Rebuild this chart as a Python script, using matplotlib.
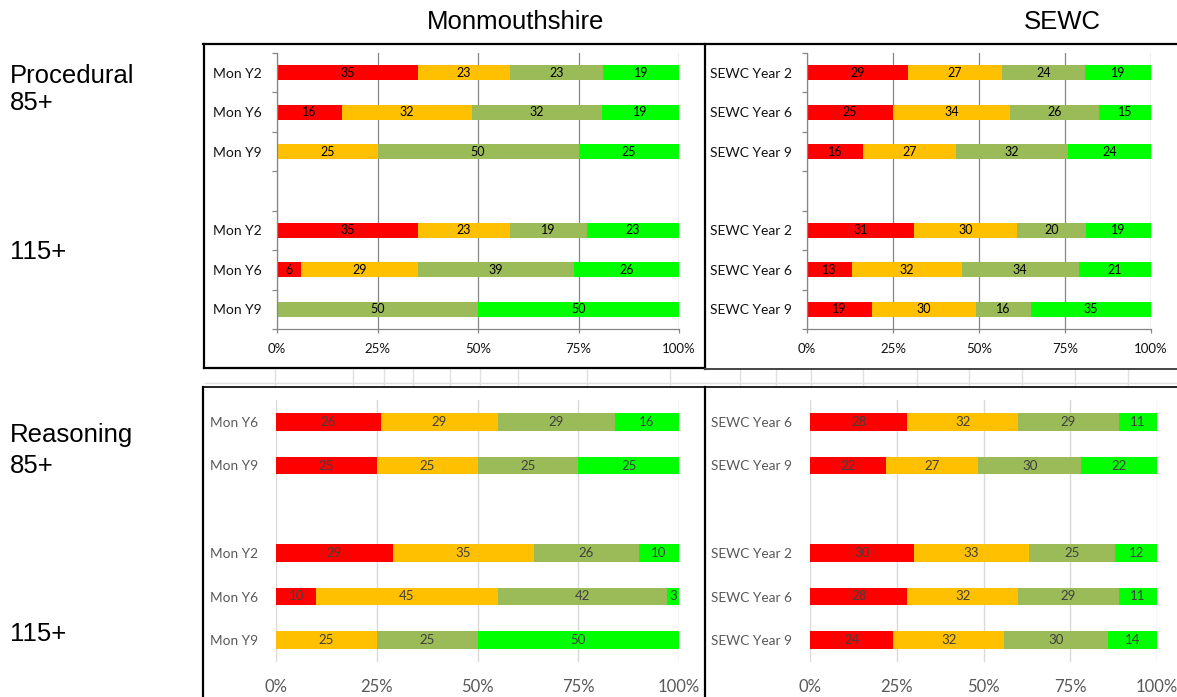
import numpy as np
import matplotlib
matplotlib.use("Agg")
import matplotlib.pyplot as plt
from matplotlib.lines import Line2D
from matplotlib import font_manager as fm

# couleurs des 4 bandes (du plus faible au plus fort)
colors = ["#FF0000", "#FFC000", "#9BBB59", "#00FF00"]
xticks = [0, 25, 50, 75, 100]

# Monmouthshire - procedural
mon_proc_labels = ["Mon Y2", "Mon Y6", "Mon Y9", "", "Mon Y2", "Mon Y6", "Mon Y9"]
mon_proc_red = [35, 16, 0, 0, 35, 6, 0]
mon_proc_amber = [23, 32, 25, 0, 23, 29, 0]
mon_proc_olive = [23, 32, 50, 0, 19, 39, 50]
mon_proc_green = [19, 19, 25, 0, 23, 26, 50]

# SEWC - procedural
sewc_proc_labels = ["SEWC Year 2", "SEWC Year 6", "SEWC Year 9", "",
                    "SEWC Year 2", "SEWC Year 6", "SEWC Year 9"]
sewc_proc_red = [29, 25, 16, 0, 31, 13, 19]
sewc_proc_amber = [27, 34, 27, 0, 30, 32, 30]
sewc_proc_olive = [24, 26, 32, 0, 20, 34, 16]
sewc_proc_green = [19, 15, 24, 0, 19, 21, 35]

# Monmouthshire - reasoning
mon_reas_labels = ["Mon Y6", "Mon Y9", "", "Mon Y2", "Mon Y6", "Mon Y9"]
mon_reas_red = [26, 25, 0, 29, 10, 0]
mon_reas_amber = [29, 25, 0, 35, 45, 25]
mon_reas_olive = [29, 25, 0, 26, 42, 25]
mon_reas_green = [16, 25, 0, 10, 3, 50]

# SEWC - reasoning
sewc_reas_labels = ["SEWC Year 6", "SEWC Year 9", "", "SEWC Year 2", "SEWC Year 6", "SEWC Year 9"]
sewc_reas_red = [28, 22, 0, 30, 28, 24]
sewc_reas_amber = [32, 27, 0, 33, 32, 32]
sewc_reas_olive = [29, 30, 0, 25, 29, 30]
sewc_reas_green = [11, 22, 0, 12, 11, 14]

W, H = 1177, 697
fig = plt.figure(figsize=(W / 100, H / 100), dpi=100)
FONT = "Lato"

# police type Arial pour les titres
arial = None
for f in fm.fontManager.ttflist:
    nom = f.fname.replace("\\", "/").split("/")[-1]
    if nom == "LiberationSans-Regular.ttf":
        arial = f.fname
        break
if arial:
    fp_titre = fm.FontProperties(fname=arial, size=18.5)
else:
    fp_titre = fm.FontProperties(family="DejaVu Sans", size=17)


def px_axes(x0, y0, x1, y1):
    """axes à partir de coordonnées pixels (haut-gauche, bas-droite)"""
    return fig.add_axes([x0 / W, 1 - y1 / H, (x1 - x0) / W, (y1 - y0) / H])


def ligne(x0, y0, x1, y1, color="black", lw=1.6):
    fig.add_artist(Line2D([x0 / W, x1 / W], [1 - y0 / H, 1 - y1 / H],
                          transform=fig.transFigure, color=color, lw=lw))


def panneau(ax, labels, series, old_style):
    n = len(labels)
    y = np.arange(n)
    data = np.array(series, dtype=float)
    tot = data.sum(axis=0)
    tot[tot == 0] = 1
    pct = data / tot * 100
    left = np.zeros(n)
    hauteur = 0.38 if old_style else 0.4
    lab_col = "black" if old_style else "#404040"
    lab_size = 9 if old_style else 9.5
    for k in range(4):
        ax.barh(y, pct[k], left=left, height=hauteur, color=colors[k], zorder=2)
        for i in range(n):
            if data[k][i] > 0:
                ax.text(left[i] + pct[k][i] / 2, y[i], str(int(data[k][i])),
                        ha="center", va="center", fontsize=lab_size, color=lab_col,
                        family=FONT, zorder=3)
        left = left + pct[k]

    ax.set_xlim(0, 100)
    ax.set_ylim(n - 0.5, -0.5)
    ax.set_xticks(xticks)
    ax.set_xticklabels([f"{v}%" for v in xticks])
    ax.set_yticks(y)
    ax.set_yticklabels(labels)
    ax.set_axisbelow(True)
    ax.set_facecolor("none")

    if old_style:
        ax.grid(axis="x", color="#868686", lw=0.9)
        for s in ["top", "right"]:
            ax.spines[s].set_visible(False)
        for s in ["left", "bottom"]:
            ax.spines[s].set_color("#868686")
            ax.spines[s].set_linewidth(0.9)
        ax.set_yticks(np.arange(n + 1) - 0.5, minor=True)
        ax.tick_params(axis="y", which="major", length=0, pad=11)
        ax.tick_params(axis="y", which="minor", length=3.5, color="#868686", width=0.9)
        ax.tick_params(axis="x", length=3, color="#868686", width=0.9, pad=7)
        for t in ax.get_yticklabels():
            t.set_fontsize(10)
            t.set_family(FONT)
            t.set_color("#111111")
        for t in ax.get_xticklabels():
            t.set_fontsize(9.5)
            t.set_family(FONT)
            t.set_color("#111111")
    else:
        ax.grid(axis="x", color="#D9D9D9", lw=1)
        for s in ax.spines.values():
            s.set_visible(False)
        ax.tick_params(axis="y", length=0, pad=13)
        ax.tick_params(axis="x", length=0, pad=12)
        for t in ax.get_yticklabels():
            t.set_fontsize(9.8)
            t.set_family(FONT)
            t.set_color("#595959")
        for t in ax.get_xticklabels():
            t.set_fontsize(12)
            t.set_family(FONT)
            t.set_color("#595959")


ax1 = px_axes(277, 53, 679, 329)
panneau(ax1, mon_proc_labels, [mon_proc_red, mon_proc_amber, mon_proc_olive, mon_proc_green], True)
ax2 = px_axes(807, 53, 1151, 329)
panneau(ax2, sewc_proc_labels, [sewc_proc_red, sewc_proc_amber, sewc_proc_olive, sewc_proc_green], True)
ax3 = px_axes(276, 400, 679, 662)
panneau(ax3, mon_reas_labels, [mon_reas_red, mon_reas_amber, mon_reas_olive, mon_reas_green], False)
ax4 = px_axes(810, 400, 1157, 662)
panneau(ax4, sewc_reas_labels, [sewc_reas_red, sewc_reas_amber, sewc_reas_olive, sewc_reas_green], False)

# titres et étiquettes de lignes
txt = dict(fontproperties=fp_titre, color="black")
fig.text(516 / W, 1 - 22 / H, "Monmouthshire", ha="center", va="center", **txt)
fig.text(1062 / W, 1 - 22 / H, "SEWC", ha="center", va="center", **txt)
fig.text(10 / W, 1 - 76 / H, "Procedural", ha="left", va="center", **txt)
fig.text(10 / W, 1 - 103 / H, "85+", ha="left", va="center", **txt)
fig.text(10 / W, 1 - 252 / H, "115+", ha="left", va="center", **txt)
fig.text(10 / W, 1 - 435 / H, "Reasoning", ha="left", va="center", **txt)
fig.text(10 / W, 1 - 466 / H, "85+", ha="left", va="center", **txt)
fig.text(10 / W, 1 - 634 / H, "115+", ha="left", va="center", **txt)

# cadres (capture de tableur)
for x in [275, 353, 384, 413, 450, 480, 518, 587, 670, 740, 776, 811, 863, 917, 969, 1022, 1075, 1128]:
    ligne(x, 369, x, 387, color="#E0E0E0", lw=1)
ligne(205, 383, W, 383, color="#E0E0E0", lw=1)
ligne(203, 44, W, 44)
ligne(204, 44, 204, 368)
ligne(204, 368, 705, 368)
ligne(705, 44, 705, 369)
ligne(705, 369, W, 369, color="#444444", lw=1.4)
ligne(203, 387, W, 387, color="#222222", lw=1.4)
ligne(203, 387, 203, H)
ligne(705, 387, 705, H)

fig.savefig("out.png", dpi=100)
